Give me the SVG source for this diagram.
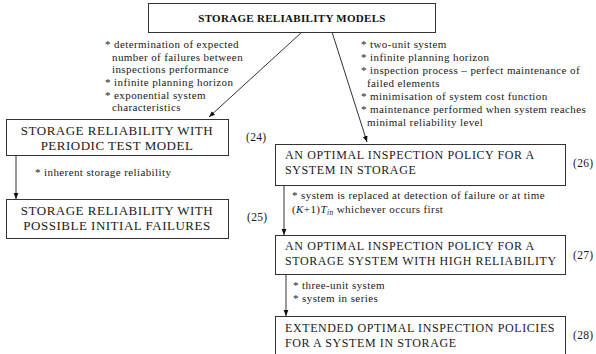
<svg xmlns="http://www.w3.org/2000/svg" width="596" height="354" viewBox="0 0 596 354">
  <style>
    .box { fill: #ffffff; stroke: #333333; stroke-width: 1; }
    .title { font-size: 12px; letter-spacing: 0.6px; fill: #1a1a1a; }
    .title-l { font-size: 13px; letter-spacing: 0.5px; fill: #1a1a1a; }
    .head { font-size: 11px; letter-spacing: 0.3px; font-weight: bold; fill: #111111; }
    .note { font-size: 11px; letter-spacing: 0.4px; fill: #1a1a1a; }
    .ref { font-size: 11.5px; letter-spacing: 0.3px; fill: #1a1a1a; }
    .wire { stroke: #333333; stroke-width: 1; fill: none; marker-end: url(#tip); }
  </style>
  <defs>
    <marker id="tip" viewBox="0 0 10 10" refX="10" refY="5" markerWidth="6" markerHeight="6" orient="auto" markerUnits="userSpaceOnUse">
      <path d="M0,1 L10,5 L0,9 z" fill="#111111"/>
    </marker>
  </defs>

  <rect width="596" height="354" fill="#ffffff"/>

  <g font-family="'Liberation Serif', 'DejaVu Serif', 'Times New Roman', serif">
  <!-- connectors -->
  <g id="connectors">
    <line class="wire" x1="302" y1="32" x2="209" y2="117"/>
    <line class="wire" x1="332" y1="32" x2="367" y2="142"/>
    <line class="wire" x1="16" y1="156" x2="16" y2="199"/>
    <line class="wire" x1="284" y1="186" x2="284" y2="235"/>
    <line class="wire" x1="286" y1="275" x2="286" y2="316"/>
  </g>

  <!-- notes attached to connectors -->
  <g id="notes">
    <text class="note" x="105" y="48">* determination of expected</text>
    <text class="note" x="112" y="61">number of failures between</text>
    <text class="note" x="112" y="73">inspections performance</text>
    <text class="note" x="105" y="86">* infinite planning horizon</text>
    <text class="note" x="105" y="99">* exponential system</text>
    <text class="note" x="112" y="111">characteristics</text>

    <text class="note" x="361" y="48">* two-unit system</text>
    <text class="note" x="361" y="61">* infinite planning horizon</text>
    <text class="note" x="361" y="74">* inspection process – perfect maintenance of</text>
    <text class="note" x="367" y="87">failed elements</text>
    <text class="note" x="361" y="100">* minimisation of system cost function</text>
    <text class="note" x="361" y="113">* maintenance performed when system reaches</text>
    <text class="note" x="367" y="126">minimal reliability level</text>

    <text class="note" x="35" y="176">* inherent storage reliability</text>

    <text class="note" x="292" y="199">* system is replaced at detection of failure or at time</text>
    <text class="note" x="292" y="213">(<tspan font-style="italic">K</tspan>+1)<tspan font-style="italic">T</tspan><tspan font-style="italic" font-size="7.5" dy="2">in</tspan><tspan dy="-2"> whichever occurs first</tspan></text>

    <text class="note" x="293" y="289">* three-unit system</text>
    <text class="note" x="293" y="302">* system in series</text>
  </g>

  <g id="n-root">
    <rect class="box" x="148.5" y="3.5" width="287" height="29"/>
    <text class="head" x="292" y="22" text-anchor="middle">STORAGE RELIABILITY MODELS</text>
  </g>

  <g id="n24">
    <rect class="box" x="6.5" y="119.5" width="222" height="36"/>
    <text class="title-l" x="117" y="135" text-anchor="middle">STORAGE RELIABILITY WITH</text>
    <text class="title-l" x="117" y="150" text-anchor="middle">PERIODIC TEST MODEL</text>
    <text class="ref" x="246" y="141">(24)</text>
  </g>

  <g id="n25">
    <rect class="box" x="6.5" y="199.5" width="222" height="39"/>
    <text class="title-l" x="117" y="215" text-anchor="middle">STORAGE RELIABILITY WITH</text>
    <text class="title-l" x="117" y="230" text-anchor="middle">POSSIBLE INITIAL FAILURES</text>
    <text class="ref" x="247" y="221">(25)</text>
  </g>

  <g id="n26">
    <rect class="box" x="275.5" y="144.5" width="290" height="41"/>
    <text class="title" x="285" y="159">AN OPTIMAL INSPECTION POLICY FOR A</text>
    <text class="title" x="285" y="174">SYSTEM IN STORAGE</text>
    <text class="ref" x="573" y="167">(26)</text>
  </g>

  <g id="n27">
    <rect class="box" x="275.5" y="235.5" width="290" height="39"/>
    <text class="title" x="285" y="250">AN OPTIMAL INSPECTION POLICY FOR A</text>
    <text class="title" x="285" y="265">STORAGE SYSTEM WITH HIGH RELIABILITY</text>
    <text class="ref" x="573" y="259">(27)</text>
  </g>

  <g id="n28">
    <rect class="box" x="275.5" y="316.5" width="290" height="50"/>
    <text class="title" x="285" y="332">EXTENDED OPTIMAL INSPECTION POLICIES</text>
    <text class="title" x="285" y="347">FOR A SYSTEM IN STORAGE</text>
    <text class="ref" x="573" y="339">(28)</text>
  </g>
  </g>
</svg>
